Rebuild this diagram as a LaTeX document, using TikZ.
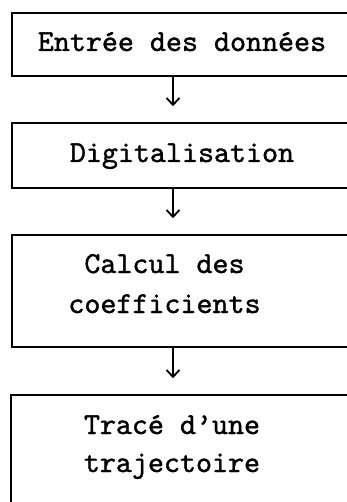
\documentclass[tikz,border=0pt]{standalone}
\usepackage{fontspec}
\setmonofont{lmmono10-regular.otf}[FakeBold=1.2]
\usetikzlibrary{arrows.meta}
\begin{document}
\begin{tikzpicture}[x=1pt,y=-1pt,
  box/.style={draw, line width=1.5pt, rectangle, inner sep=0pt, minimum width=340pt},
  lbl/.style={anchor=base, inner sep=0pt, font=\ttfamily\fontsize{30.5}{39}\selectfont},
  arr/.style={line width=1.8pt, -{Straight Barb[length=7pt,width=13pt,line width=1.8pt]}, shorten >=16pt}]
\useasboundingbox (0,0) rectangle (347,502);
\clip (0,0) rectangle (347,502);
\node[box, minimum height=63pt] (b1) at (182,44.5) {};
\node[box, minimum height=65pt] (b2) at (182,155.5) {};
\node[box, minimum height=112pt] (b3) at (182,291) {};
\node[box, minimum height=125pt, minimum width=342pt] (b4) at (182,457.5) {};
\node[lbl] (t1) at (182,51) {Entrée des données};
\node[lbl] (t2) at (182,162) {Digitalisation};
\node[lbl] (t3a) at (164.5,273) {Calcul des};
\node[lbl] (t3b) at (164.5,313) {coefficients};
\node[lbl] (t4a) at (172,434) {Tracé d’une};
\node[lbl] (t4b) at (172,472) {trajectoire};
\draw[arr] ([xshift=-9pt]b1.south) -- ([xshift=-9pt]b2.north);
\draw[arr] ([xshift=-9pt]b2.south) -- ([xshift=-9pt]b3.north);
\draw[arr] ([xshift=-9pt]b3.south) -- ([xshift=-9pt]b4.north);
\end{tikzpicture}
\end{document}
